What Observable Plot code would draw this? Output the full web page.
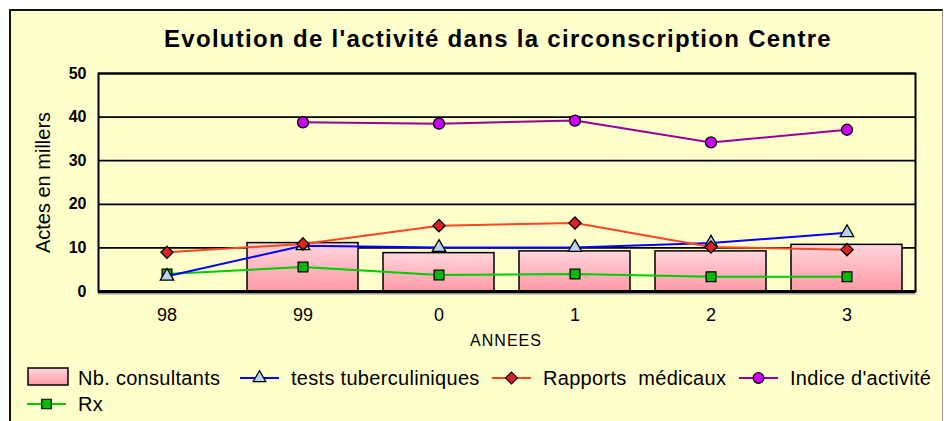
<!DOCTYPE html>
<html>
<head>
<meta charset="utf-8">
<script src="https://cdn.jsdelivr.net/npm/d3@7"></script>
<script src="https://cdn.jsdelivr.net/npm/@observablehq/plot@0.6"></script>
<style>
  html, body { margin: 0; padding: 0; background: #fff; }
  #wrap { position: relative; width: 944px; height: 421px; overflow: hidden; font-family: "Liberation Sans", Arial, sans-serif; }
  #frame { position: absolute; left: 9px; top: 9px; width: 931px; height: 430px; background: #FFFFCC;
           border-left: 2px solid #111; border-top: 2px solid #111; border-right: 1px solid #999; }
  #title { position: absolute; left: 0; width: 996px; top: 27px; line-height: 24px; text-align: center; font-weight: bold; font-size: 24px; letter-spacing: 1.3px; color: #000; }
  #chart { position: absolute; left: 0; top: 0; }
  .xlab { position: absolute; top: 332px; left: 0; width: 1012px; line-height: 18px; text-align: center; font-size: 16px; letter-spacing: 1px; color: #000; }
  .leg { position: absolute; font-size: 20px; letter-spacing: 0.3px; color: #000; white-space: pre; }
  .leg svg { position: absolute; left: 0; top: 0; overflow: visible; }
</style>
</head>
<body>
<div id="wrap">
  <div id="frame"></div>
  <div id="title">Evolution de l'activité dans la circonscription Centre</div>
  <div id="chart"></div>
  <div class="xlab">ANNEES</div>
  <div id="legend"></div>
</div>
<script>
const annees = ["98", "99", "0", "1", "2", "3"];
const consultants = [null, 11.1, 8.8, 9.2, 9.2, 10.7];
const tests = [3.5, 10.5, 10.1, 10.1, 11.1, 13.5];
const rapports = [9.0, 10.9, 15.1, 15.7, 10.2, 9.6];
const indice = [null, 38.8, 38.5, 39.2, 34.2, 37.1];
const rx = [4.0, 5.6, 3.8, 4.0, 3.4, 3.4];
const yTicks = [0, 10, 20, 30, 40, 50];
const seriesNames = ["Nb. consultants", "tests tuberculiniques", "Rapports  médicaux", "Indice d'activité", "Rx"];

const rows = annees.map((a, i) => ({annee: a, consultants: consultants[i], tests: tests[i], rapports: rapports[i], indice: indice[i], rx: rx[i]}));

const lineStyles = {
  rx:       {line: "#00CC00", fill: "#00BB00", symbol: "square", r: 5.5},
  tests:    {line: "#0000FF", fill: "#B4D4F0", symbol: "triangle", r: 5},
  rapports: {line: "#FF4422", fill: "#DD2222", symbol: "diamond2", r: 5.5},
  indice:   {line: "#990099", fill: "#CC00FF", symbol: "circle", r: 5.5}
};

const seriesMarks = [];
for (const key of ["rx", "tests", "rapports", "indice"]) {
  const s = lineStyles[key];
  seriesMarks.push(Plot.lineY(rows, {x: "annee", y: key, stroke: s.line, strokeWidth: 2}));
  seriesMarks.push(Plot.dot(rows, {x: "annee", y: key, symbol: () => s.symbol, fill: s.fill, stroke: "#000", strokeWidth: 1.3, r: s.r}));
}

const chart = Plot.plot({
  width: 944,
  height: 360,
  marginTop: 73,
  marginBottom: 69,
  marginLeft: 98,
  marginRight: 29,
  style: {background: "transparent", fontFamily: "Liberation Sans, Arial, sans-serif", color: "#000", overflow: "visible"},
  x: {type: "band", domain: annees, paddingInner: 0.187, paddingOuter: 0.08, label: null},
  y: {domain: [0, 50], ticks: yTicks, label: null},
  symbol: {type: "identity"},
  marks: [
    Plot.ruleY(yTicks.filter(d => d > 0), {stroke: "#000", strokeWidth: 1.8}),
    Plot.barY(rows, {x: "annee", y: "consultants", fill: "url(#pinkgrad)", stroke: "#000", strokeWidth: 1.5}),
    Plot.frame({stroke: "#000", strokeWidth: 2}),
    Plot.ruleY([0], {stroke: "#999", strokeWidth: 2, dy: 2}),
    Plot.ruleY([0], {stroke: "#000", strokeWidth: 2.8}),
    ...seriesMarks,
    Plot.axisX({fontSize: 18, tickSize: 0, tickPadding: 17, label: null}),
    Plot.axisY({ticks: yTicks, fontSize: 16, fontWeight: "bold", tickSize: 0, tickPadding: 12, label: null}),
    Plot.text(["Actes en millers"], {frameAnchor: "left", textAnchor: "middle", lineAnchor: "middle", dx: -55, rotate: -90, fontSize: 20, fill: "#000"})
  ]
});

// gradient for bars
const svg = d3.select(chart);
const defs = svg.insert("defs", ":first-child");
const g = defs.append("linearGradient").attr("id", "pinkgrad").attr("x1", 0).attr("y1", 0).attr("x2", 0).attr("y2", 1);
g.append("stop").attr("offset", "0%").attr("stop-color", "#FFD6DC");
g.append("stop").attr("offset", "100%").attr("stop-color", "#FF9AA6");

document.getElementById("chart").appendChild(chart);

// legend
const legend = document.getElementById("legend");
const legItems = [
  {name: seriesNames[0], kind: "bar", x: 27, y: 367},
  {name: seriesNames[1], kind: "tests", x: 240, y: 367},
  {name: seriesNames[2], kind: "rapports", x: 492, y: 367},
  {name: seriesNames[3], kind: "indice", x: 739, y: 367},
  {name: seriesNames[4], kind: "rx", x: 27, y: 393}
];
const symPath = {
  square: d3.symbol(d3.symbolSquare, 90)(),
  triangle: d3.symbol(d3.symbolTriangle, 70)(),
  diamond2: d3.symbol(d3.symbolDiamond2, 90)(),
  circle: d3.symbol(d3.symbolCircle, 90)()
};
for (const it of legItems) {
  const div = document.createElement("div");
  div.className = "leg";
  div.style.left = it.x + "px";
  div.style.top = it.y + "px";
  div.style.height = "24px";
  let sw;
  if (it.kind === "bar") {
    sw = `<svg width="42" height="20"><defs><linearGradient id="lg" x1="0" y1="0" x2="0" y2="1"><stop offset="0" stop-color="#FFD6DC"/><stop offset="1" stop-color="#FF9AA6"/></linearGradient></defs><rect x="1" y="1" width="40" height="17" fill="url(#lg)" stroke="#000" stroke-width="1.5"/></svg>`;
  } else {
    const s = lineStyles[it.kind];
    sw = `<svg width="42" height="20"><line x1="0" x2="39" y1="11" y2="11" stroke="${s.line}" stroke-width="2"/><path transform="translate(19.5,11)" d="${symPath[s.symbol]}" fill="${s.fill}" stroke="#000" stroke-width="1.2"/></svg>`;
  }
  div.innerHTML = sw + `<span style="position:absolute;left:51px;top:0px;line-height:23px;">${it.name}</span>`;
  legend.appendChild(div);
}
</script>
</body>
</html>
